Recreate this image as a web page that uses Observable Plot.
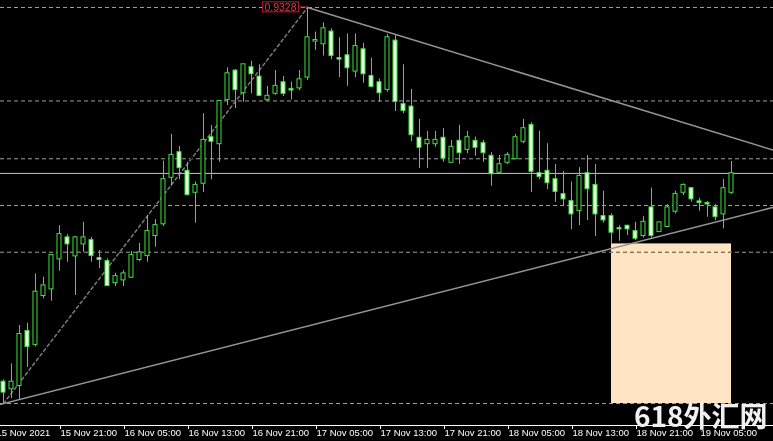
<!DOCTYPE html>
<html><head><meta charset="utf-8">
<script src="https://cdn.jsdelivr.net/npm/d3@7"></script>
<script src="https://cdn.jsdelivr.net/npm/@observablehq/plot@0.6"></script>
<style>
html,body{margin:0;padding:0;background:#000;overflow:hidden}
#chart{width:773px;height:441px}
</style></head><body><div id="chart"></div>
<script>
// ---- hourly candles (H1), 15 Nov 2021 14:00 -> 19 Nov 2021 09:00 (UTC labels as shown)
const times = [
 "2021-11-15T14:00Z","2021-11-15T15:00Z","2021-11-15T16:00Z","2021-11-15T17:00Z","2021-11-15T18:00Z","2021-11-15T19:00Z","2021-11-15T20:00Z","2021-11-15T21:00Z","2021-11-15T22:00Z","2021-11-15T23:00Z",
 "2021-11-16T00:00Z","2021-11-16T01:00Z","2021-11-16T02:00Z","2021-11-16T03:00Z","2021-11-16T04:00Z","2021-11-16T05:00Z","2021-11-16T06:00Z","2021-11-16T07:00Z","2021-11-16T08:00Z","2021-11-16T09:00Z","2021-11-16T10:00Z","2021-11-16T11:00Z",
 "2021-11-16T12:00Z","2021-11-16T13:00Z","2021-11-16T14:00Z","2021-11-16T15:00Z","2021-11-16T16:00Z","2021-11-16T17:00Z","2021-11-16T18:00Z","2021-11-16T19:00Z","2021-11-16T20:00Z","2021-11-16T21:00Z","2021-11-16T22:00Z","2021-11-16T23:00Z",
 "2021-11-17T00:00Z","2021-11-17T01:00Z","2021-11-17T02:00Z","2021-11-17T03:00Z","2021-11-17T04:00Z","2021-11-17T05:00Z","2021-11-17T06:00Z","2021-11-17T07:00Z","2021-11-17T08:00Z","2021-11-17T09:00Z","2021-11-17T10:00Z","2021-11-17T11:00Z",
 "2021-11-17T12:00Z","2021-11-17T13:00Z","2021-11-17T14:00Z","2021-11-17T15:00Z","2021-11-17T16:00Z","2021-11-17T17:00Z","2021-11-17T18:00Z","2021-11-17T19:00Z","2021-11-17T20:00Z","2021-11-17T21:00Z","2021-11-17T22:00Z","2021-11-17T23:00Z",
 "2021-11-18T00:00Z","2021-11-18T01:00Z","2021-11-18T02:00Z","2021-11-18T03:00Z","2021-11-18T04:00Z","2021-11-18T05:00Z","2021-11-18T06:00Z","2021-11-18T07:00Z","2021-11-18T08:00Z","2021-11-18T09:00Z","2021-11-18T10:00Z","2021-11-18T11:00Z",
 "2021-11-18T12:00Z","2021-11-18T13:00Z","2021-11-18T14:00Z","2021-11-18T15:00Z","2021-11-18T16:00Z","2021-11-18T17:00Z","2021-11-18T18:00Z","2021-11-18T19:00Z","2021-11-18T20:00Z","2021-11-18T21:00Z","2021-11-18T22:00Z","2021-11-18T23:00Z",
 "2021-11-19T00:00Z","2021-11-19T01:00Z","2021-11-19T02:00Z","2021-11-19T03:00Z","2021-11-19T04:00Z","2021-11-19T05:00Z","2021-11-19T06:00Z","2021-11-19T07:00Z","2021-11-19T08:00Z","2021-11-19T09:00Z"
];
const open = [
 0.92031,0.92009,0.92020,0.92200,0.92157,0.92320,0.92342,0.92442,0.92512,0.92452,
 0.92492,0.92503,0.92443,0.92433,0.92363,0.92372,0.92381,0.92440,0.92453,0.92520,0.92559,0.92714,
 0.92796,0.92734,0.92664,0.92694,0.92846,0.92826,0.92973,0.93068,0.92996,0.93079,0.93048,0.92973,
 0.92994,0.93029,0.93007,0.93012,0.93048,0.93168,0.93159,0.93198,0.93110,0.93119,0.93068,0.93139,
 0.93050,0.93029,0.93007,0.93168,0.92956,0.92948,0.92844,0.92826,0.92826,0.92844,0.92764,0.92834,
 0.92807,0.92834,0.92826,0.92784,0.92731,0.92764,0.92776,0.92834,0.92887,0.92726,0.92734,0.92706,
 0.92656,0.92633,0.92603,0.92726,0.92687,0.92583,0.92583,0.92543,0.92551,0.92533,0.92520,0.92612,
 0.92533,0.92550,0.92601,0.92664,0.92676,0.92632,0.92627,0.92612,0.92592,0.92664
];
const high = [
 0.92039,0.92092,0.92220,0.92228,0.92392,0.92381,0.92457,0.92553,0.92523,0.92517,
 0.92564,0.92514,0.92470,0.92442,0.92394,0.92403,0.92467,0.92494,0.92587,0.92573,0.92768,0.92857,
 0.92817,0.92764,0.92698,0.92926,0.92887,0.92970,0.93079,0.93073,0.93090,0.93101,0.93089,0.93017,
 0.93070,0.93050,0.93031,0.93070,0.93280,0.93198,0.93229,0.93209,0.93179,0.93192,0.93192,0.93161,
 0.93111,0.93042,0.93190,0.93187,0.93089,0.93007,0.92907,0.92867,0.92867,0.92876,0.92837,0.92887,
 0.92867,0.92848,0.92837,0.92796,0.92787,0.92796,0.92857,0.92907,0.92896,0.92868,0.92826,0.92757,
 0.92734,0.92698,0.92746,0.92787,0.92757,0.92668,0.92592,0.92553,0.92553,0.92564,0.92583,0.92678,
 0.92565,0.92623,0.92668,0.92692,0.92679,0.92644,0.92633,0.92623,0.92707,0.92767
];
const low = [
 0.91960,0.91976,0.91970,0.92080,0.92148,0.92309,0.92301,0.92401,0.92431,0.92320,
 0.92464,0.92431,0.92410,0.92350,0.92350,0.92350,0.92377,0.92433,0.92431,0.92481,0.92550,0.92684,
 0.92706,0.92653,0.92561,0.92664,0.92706,0.92764,0.92953,0.92943,0.92964,0.92992,0.92983,0.92967,
 0.92987,0.92983,0.92972,0.93003,0.93037,0.93137,0.93118,0.93106,0.93046,0.93017,0.93046,0.93028,
 0.93012,0.92964,0.92998,0.92933,0.92926,0.92833,0.92744,0.92744,0.92814,0.92764,0.92763,0.92756,
 0.92792,0.92784,0.92764,0.92684,0.92726,0.92757,0.92773,0.92826,0.92664,0.92706,0.92673,0.92631,
 0.92620,0.92539,0.92553,0.92570,0.92517,0.92561,0.92492,0.92501,0.92520,0.92503,0.92512,0.92512,
 0.92530,0.92548,0.92592,0.92653,0.92631,0.92601,0.92581,0.92570,0.92542,0.92657
];
const close = [
 0.91998,0.92031,0.92190,0.92150,0.92331,0.92352,0.92453,0.92523,0.92492,0.92512,
 0.92512,0.92453,0.92440,0.92353,0.92383,0.92392,0.92453,0.92462,0.92533,0.92553,0.92706,0.92787,
 0.92746,0.92656,0.92687,0.92837,0.92834,0.92967,0.93059,0.93006,0.93089,0.93059,0.92987,0.92984,
 0.93017,0.92994,0.93005,0.93039,0.93179,0.93170,0.93209,0.93120,0.93108,0.93079,0.93150,0.93059,
 0.93017,0.92996,0.93179,0.92967,0.92937,0.92856,0.92814,0.92837,0.92837,0.92778,0.92814,0.92796,
 0.92846,0.92814,0.92796,0.92726,0.92756,0.92787,0.92846,0.92876,0.92734,0.92717,0.92696,0.92667,
 0.92642,0.92592,0.92717,0.92676,0.92592,0.92572,0.92531,0.92542,0.92542,0.92511,0.92564,0.92520,
 0.92562,0.92612,0.92657,0.92687,0.92642,0.92630,0.92625,0.92583,0.92676,0.92726
];

// ---- time axis ticks and labels
const tickTimes = ["2021-11-15T13:00Z","2021-11-15T21:00Z","2021-11-16T05:00Z","2021-11-16T13:00Z","2021-11-16T21:00Z","2021-11-17T05:00Z",
                   "2021-11-17T13:00Z","2021-11-17T21:00Z","2021-11-18T05:00Z","2021-11-18T13:00Z","2021-11-18T21:00Z","2021-11-19T05:00Z"];
const tickLabels = ["15 Nov 2021","15 Nov 21:00","16 Nov 05:00","16 Nov 13:00","16 Nov 21:00","17 Nov 05:00",
                    "17 Nov 13:00","17 Nov 21:00","18 Nov 05:00","18 Nov 13:00","18 Nov 21:00","19 Nov 05:00"];

// ---- drawn objects
const fibAnchorTimes = ["2021-11-15T14:00Z","2021-11-17T04:00Z"];
const fibAnchorPrices = [0.91960, 0.93280];
const fibRatios = [0, 0.236, 0.382, 0.5, 0.618, 1];
const horizontalLine = [0.92727];
const upperTrendTimes = ["2021-11-17T04:00Z","2021-11-19T16:00Z"];
const upperTrendPrices = [0.93280, 0.92790];
const lowerTrendTimes = ["2021-11-15T13:00Z","2021-11-19T16:00Z"];
const lowerTrendPrices = [0.91953, 0.92626];
const zoneTimes = ["2021-11-18T18:00Z","2021-11-19T09:00Z"];
const zonePrices = [0.92492, 0.91960];
const peakLabel = "0.9328";
const watermark = "618外汇网";

// ---- view window
const xWindow = ["2021-11-15T13:37:30Z","2021-11-19T14:15:00Z"];
const yWindow = [0.918867, 0.933033];

const green = "#3ee03e", pale = "#dcffd4";
const candles = times.map((t, i) => ({date: new Date(t), open: open[i], high: high[i], low: low[i], close: close[i]}));
const half = 15 * 60e3;
const fibHigh = fibAnchorPrices[1], fibLow = fibAnchorPrices[0];
const fibLevels = fibRatios.map(r => fibHigh - r * (fibHigh - fibLow));
const pts = (ts, ps) => ts.map((t, i) => ({date: new Date(t), price: ps[i]}));
const fibDiag = pts(fibAnchorTimes, fibAnchorPrices);
const upper = pts(upperTrendTimes, upperTrendPrices);
const lower = pts(lowerTrendTimes, lowerTrendPrices);
const zone = {x1: new Date(zoneTimes[0]), x2: new Date(zoneTimes[1]), y1: zonePrices[0], y2: zonePrices[1]};
const labelMap = new Map(tickTimes.map((t, i) => [+new Date(t), tickLabels[i]]));
const labelDx = -11;

const chart = Plot.plot({
  width: 773, height: 441,
  marginTop: 0, marginRight: 0, marginBottom: 16, marginLeft: 0,
  style: {background: "#000", color: "#fff", fontFamily: "Liberation Sans, Arial, sans-serif", overflow: "visible"},
  x: {type: "utc", domain: xWindow.map(d => new Date(d))},
  y: {domain: yWindow, axis: null},
  marks: [
    Plot.frame({fill: "#000"}),
    Plot.rect([zone], {x1: "x1", x2: "x2", y1: "y1", y2: "y2", fill: "#ffe4c4"}),
    Plot.ruleY(fibLevels, {stroke: "#a0a0a0", strokeDasharray: "4,3", mixBlendMode: "difference"}),
    Plot.line(fibDiag, {x: "date", y: "price", stroke: "#7a7a7a", strokeDasharray: "3,3", mixBlendMode: "difference"}),
    Plot.line(upper, {x: "date", y: "price", stroke: "#959595", clip: true, mixBlendMode: "difference"}),
    Plot.line(lower, {x: "date", y: "price", stroke: "#959595", clip: true, mixBlendMode: "difference"}),
    Plot.ruleY(horizontalLine, {stroke: "#c4c8d0"}),
    Plot.ruleX(candles, {x: "date", y1: "low", y2: "high", stroke: green}),
    Plot.rect(candles, {
      x1: d => new Date(+d.date - half), x2: d => new Date(+d.date + half),
      y1: "open", y2: "close", insetTop: -0.5, insetBottom: -0.5,
      fill: d => d.close < d.open ? pale : "#000", stroke: green
    }),
    Plot.ruleY([yWindow[0]], {stroke: "#fff"}),
    Plot.axisX({
      ticks: tickTimes.map(t => new Date(t)), tickFormat: d => labelMap.get(+d),
      tickSize: 4, tickPadding: 0, textAnchor: "start", dx: 1, label: null,
      fontSize: 9.5, stroke: "#fff", fill: "#fff"
    }),
    Plot.text([peakLabel], {
      x: () => new Date(fibAnchorTimes[1]), y: () => fibHigh, text: d => d,
      textAnchor: "end", lineAnchor: "middle", dx: labelDx, fill: "#e0364c", fontSize: 10.5
    }),
    Plot.text([watermark], {
      frameAnchor: "bottom-right", text: d => d, textAnchor: "end", lineAnchor: "middle",
      dx: -6, dy: -7, fontSize: 28, fontWeight: "bold", fill: "#f0f0f0",
      fontFamily: "Noto Sans CJK SC, sans-serif"
    })
  ]
});
document.getElementById("chart").append(chart);

// red frame around the peak price label, with its connector to the high
const t = [...chart.querySelectorAll("text")].find(e => e.textContent === peakLabel);
if (t) {
  const bb = t.getBBox();
  const ns = "http://www.w3.org/2000/svg";
  const r = document.createElementNS(ns, "rect");
  const rx = bb.x - 2, ry = bb.y + 1, rw = bb.width + 4, rh = bb.height - 2;
  r.setAttribute("x", rx); r.setAttribute("y", ry);
  r.setAttribute("width", rw); r.setAttribute("height", rh);
  r.setAttribute("fill", "#000"); r.setAttribute("stroke", "#c41c32");
  if (t.getAttribute("transform")) r.setAttribute("transform", t.getAttribute("transform"));
  t.parentNode.insertBefore(r, t);
  const l = document.createElementNS(ns, "line");
  l.setAttribute("x1", rx + rw); l.setAttribute("x2", -labelDx);
  l.setAttribute("y1", ry + rh / 2); l.setAttribute("y2", ry + rh / 2);
  l.setAttribute("stroke", "#c41c32");
  if (t.getAttribute("transform")) l.setAttribute("transform", t.getAttribute("transform"));
  t.parentNode.insertBefore(l, t);
}
</script></body></html>
